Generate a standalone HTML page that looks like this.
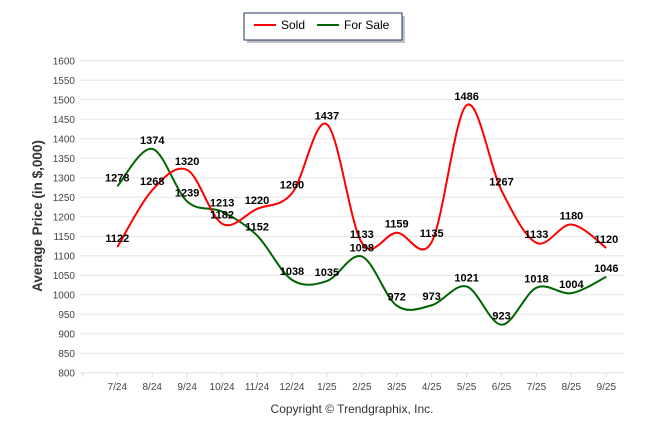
<!DOCTYPE html>
<html><head><meta charset="utf-8"><style>
body{margin:0;background:#fff;font-family:"Liberation Sans",sans-serif}
</style></head><body>
<svg width="646" height="434" viewBox="0 0 646 434" id="svg">
<g>
<rect x="247" y="16" width="158" height="27" fill="#999" opacity="0.6"/>
<rect x="244" y="13" width="158" height="27" fill="#fff" stroke="#1f3560" stroke-width="1"/>
<line x1="254" y1="25" x2="276" y2="25" stroke="#ff0000" stroke-width="2"/>
<text x="281" y="29" font-size="12" fill="#000">Sold</text>
<line x1="317" y1="25" x2="339" y2="25" stroke="#006400" stroke-width="2"/>
<text x="344" y="29" font-size="12" fill="#000">For Sale</text>
</g>
<text transform="translate(42,216) rotate(-90)" text-anchor="middle" font-size="13.5" font-weight="bold" fill="#333">Average Price (in $,000)</text>
<text x="352" y="413" text-anchor="middle" font-size="12" fill="#333">Copyright © Trendgraphix, Inc.</text>
<g id="grid"></g><g id="lines"></g><g id="labels"></g>
</svg>
<script>
const categories=["7/24","8/24","9/24","10/24","11/24","12/24","1/25","2/25","3/25","4/25","5/25","6/25","7/25","8/25","9/25"];
const sold=[1122,1268,1320,1182,1220,1260,1437,1133,1159,1135,1486,1267,1133,1180,1120];
const forSale=[1278,1374,1239,1213,1152,1038,1035,1098,972,973,1021,923,1018,1004,1046];
const yTicks=[800,850,900,950,1000,1050,1100,1150,1200,1250,1300,1350,1400,1450,1500,1550,1600];
const X0=117.3,B=34.93,T=60.7,BOT=372.7;
const x=i=>X0+B*i;
const y=v=>T+(1600-v)*(BOT-T)/800;
const NS="http://www.w3.org/2000/svg";
function mk(t,a,p){const e=document.createElementNS(NS,t);for(const k in a)e.setAttribute(k,a[k]);p.appendChild(e);return e;}
const g=document.getElementById('grid');
yTicks.forEach(v=>{
 const l=mk('line',{x1:80,x2:624,y1:y(v),y2:y(v),stroke:'#e6e6e6','stroke-width':1},g);
 
 
 const t=mk('text',{x:75,y:y(v)+4,'text-anchor':'end','font-size':10,fill:'#444'},g);
 t.textContent=v;
 
 
});
categories.forEach((c,i)=>{
 const t=mk('text',{x:x(i),y:390,'text-anchor':'middle','font-size':10,fill:'#444'},g);
 t.textContent=c;
 
 
});
mk('line',{x1:83,x2:83,y1:372.7,y2:377,stroke:'#ddd'},g);
categories.forEach((c,i)=>{mk('line',{x1:x(i),x2:x(i),y1:372.7,y2:377,stroke:'#ddd'},g);});
function path(vals){
 const p=vals.map((v,i)=>[x(i),y(v)]);let d=`M${p[0][0]},${p[0][1]}`;
 for(let i=0;i<p.length-1;i++){
  const p0=p[i-1]||p[i],p1=p[i],p2=p[i+1],p3=p[i+2]||p2;
  const c1=[p1[0]+(p2[0]-p0[0])/6,p1[1]+(p2[1]-p0[1])/6];
  const c2=[p2[0]-(p3[0]-p1[0])/6,p2[1]-(p3[1]-p1[1])/6];
  d+=` C${c1[0]},${c1[1]} ${c2[0]},${c2[1]} ${p2[0]},${p2[1]}`;
 }
 return d;
}
const lg=document.getElementById('lines');
const ps=mk('path',{d:path(forSale),fill:'none',stroke:'#006400','stroke-width':2},lg);


const pl=mk('path',{d:path(sold),fill:'none',stroke:'#ff0000','stroke-width':2},lg);


const lb=document.getElementById('labels');
[[sold,'sold-value-label'],[forSale,'for-sale-value-label']].forEach(([arr,nm])=>{
 arr.forEach((v,i)=>{
  const t=mk('text',{x:x(i),y:y(v)-5,'text-anchor':'middle','font-size':11,'font-weight':'bold',fill:'#000'},lb);
  t.textContent=v;
  
  
 });
});
</script>
</body></html>
